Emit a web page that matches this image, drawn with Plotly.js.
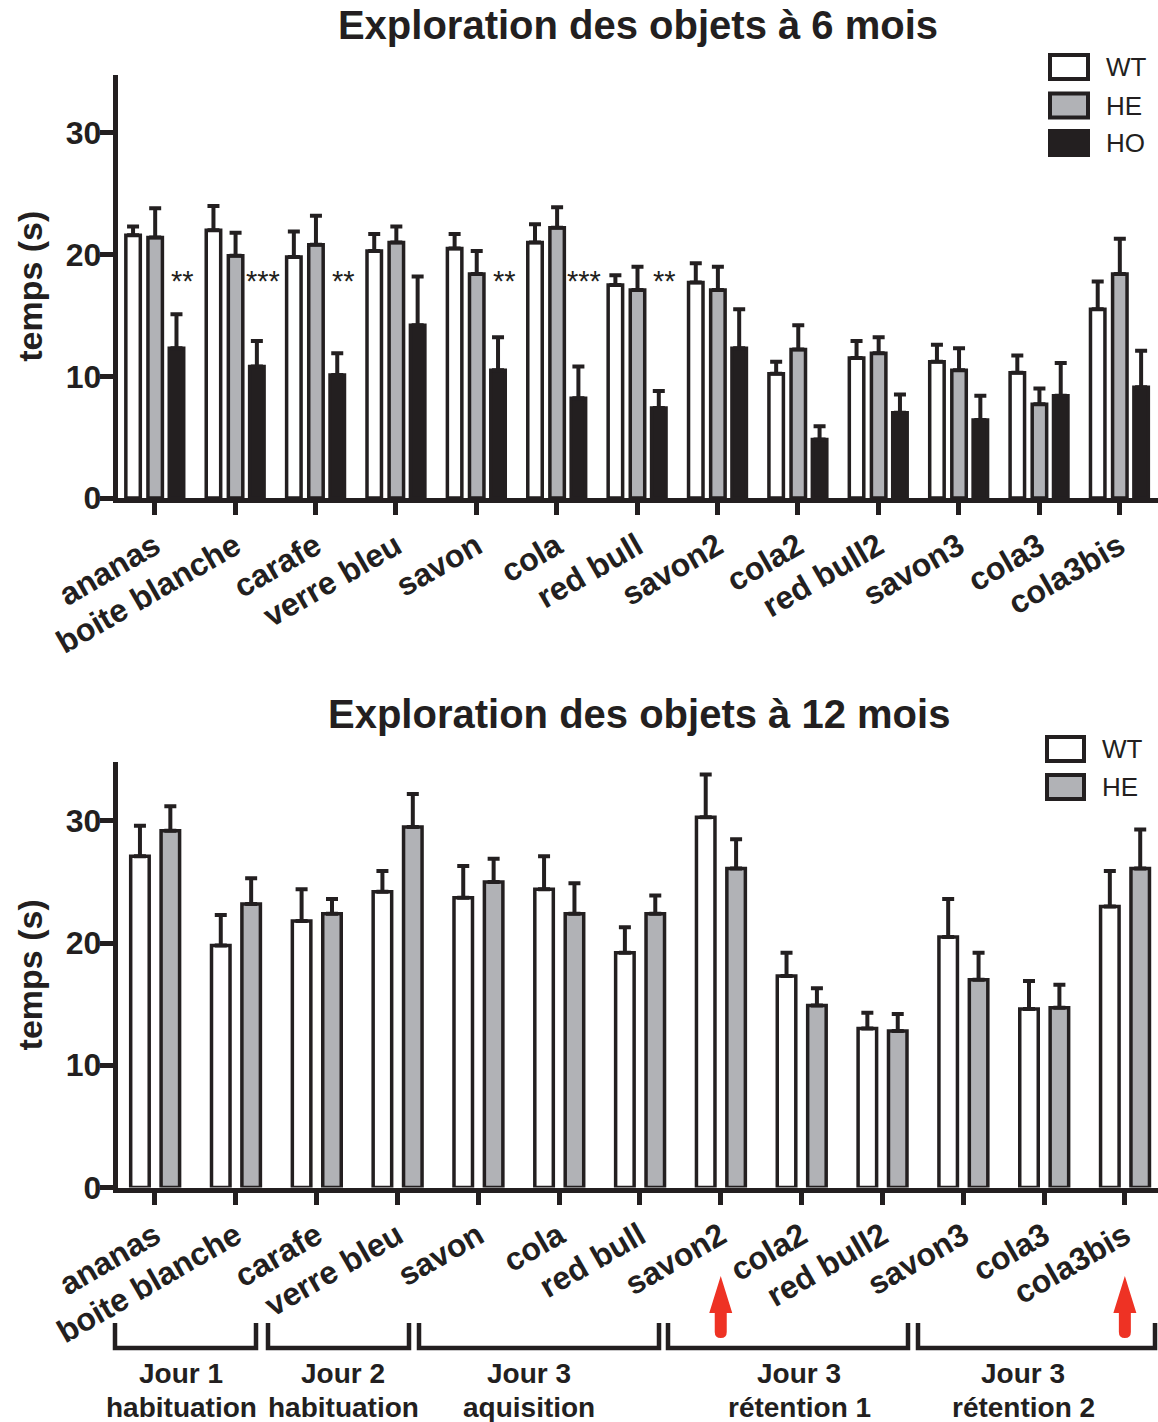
<!DOCTYPE html>
<html><head><meta charset="utf-8">
<script src="https://cdn.plot.ly/plotly-3.0.1.min.js"></script>
<style>html,body{margin:0;padding:0;background:#fff}#chart{width:1158px;height:1422px}</style>
</head><body><div id="chart"></div>
<script>
// ---------- data ----------
const categories = ['ananas','boite blanche','carafe','verre bleu','savon','cola','red bull','savon2','cola2','red bull2','savon3','cola3','cola3bis'];
// 6 mois
const wt6    = [21.6,22.0,19.8,20.3,20.5,21.0,17.5,17.7,10.2,11.5,11.2,10.3,15.5];
const wt6Err = [0.7,2.0,2.1,1.4,1.2,1.5,0.8,1.6,1.0,1.4,1.4,1.4,2.3];
const he6    = [21.4,19.9,20.8,21.0,18.4,22.2,17.1,17.1,12.2,11.9,10.5,7.7,18.4];
const he6Err = [2.4,1.9,2.4,1.3,1.9,1.7,1.9,1.9,2.0,1.3,1.8,1.3,2.9];
const ho6    = [12.3,10.8,10.1,14.2,10.5,8.2,7.4,12.3,4.8,7.0,6.4,8.4,9.1];
const ho6Err = [2.8,2.1,1.8,4.0,2.7,2.6,1.4,3.2,1.1,1.5,2.0,2.7,3.0];
const sig6   = ['**','***','**','','**','***','**','','','','','',''];
const sigLevel6 = 17.8;
// 12 mois
const wt12    = [27.1,19.8,21.8,24.2,23.7,24.4,19.2,30.3,17.3,13.0,20.5,14.6,23.0];
const wt12Err = [2.5,2.5,2.6,1.7,2.6,2.7,2.1,3.5,1.9,1.3,3.1,2.3,2.9];
const he12    = [29.2,23.2,22.4,29.5,25.0,22.4,22.4,26.1,14.9,12.8,17.0,14.7,26.1];
const he12Err = [2.0,2.1,1.2,2.7,1.9,2.5,1.5,2.4,1.4,1.4,2.2,1.9,3.2];
const yTicks = [0,10,20,30];
const series6 = ['WT','HE','HO'];
const series12 = ['WT','HE'];
const groupTop = ['Jour 1','Jour 2','Jour 3','Jour 3','Jour 3'];
const groupBottom = ['habituation','habituation','aquisition','rétention 1','rétention 2'];
const arrowCats = ['savon2','cola3bis'];

// ---------- styling ----------
const ink = '#231f20', grey = '#b1b2b6', red = '#ee3224';
const W = 1158, H = 1422;
const px = v => v / W, py = v => 1 - v / H;
const FONT = 'Liberation Sans, Arial, Helvetica, sans-serif';
const fills = {WT:'#ffffff', HE:grey, HO:ink};

function bar(y, err, name, xa, ya, width, offset){
  return {
    type:'bar', x:categories, y:y, name:name, xaxis:xa, yaxis:ya,
    width:width, offset:offset, showlegend:false,
    marker:{color:fills[name], line:{color:ink, width:3.5}},
    error_y:{type:'data', array:err, arrayminus:err.map(()=>0), symmetric:false,
             color:ink, thickness:4, width:6}
  };
}
const w6 = 0.18, w12 = 0.229;
const data = [
  bar(wt6, wt6Err, 'WT', 'x', 'y', w6, -0.27 - w6/2),
  bar(he6, he6Err, 'HE', 'x', 'y', w6, 0.005 - w6/2),
  bar(ho6, ho6Err, 'HO', 'x', 'y', w6, 0.27 - w6/2),
  bar(wt12, wt12Err, 'WT', 'x2', 'y2', w12, -0.186 - w12/2),
  bar(he12, he12Err, 'HE', 'x2', 'y2', w12, 0.19 - w12/2)
];

const tickFont = {family:FONT, size:32, weight:'bold', color:ink};
function xAxis(dom, range, anchor){
  return {domain:dom, range:range, type:'category', anchor:anchor,
    showline:true, linewidth:5, linecolor:ink, ticks:'outside', ticklen:12, tickwidth:5, tickcolor:ink,
    tickangle:-30, tickfont:tickFont, showgrid:false, zeroline:false, fixedrange:true};
}
function yAxis(dom, anchor){
  return {domain:dom, range:[0,34.8], anchor:anchor,
    showline:true, linewidth:5, linecolor:ink, ticks:'outside', ticklen:13, tickwidth:5, tickcolor:ink,
    tickvals:yTicks, tickfont:tickFont, ticklabelstandoff:-8, showgrid:false, zeroline:false, fixedrange:true,
    title:{text:'temps (s)', font:{family:FONT, size:34, weight:'bold', color:ink}, standoff:14}};
}

const annotations = [];
const shapes = [];
// bottom title
annotations.push({text:'Exploration des objets à 12 mois', xref:'paper', yref:'paper', x:px(639), y:py(714),
  xanchor:'center', yanchor:'middle', showarrow:false, font:{family:FONT, size:40, weight:'bold', color:ink}});
// significance stars
sig6.forEach((s,i)=>{ if(s) annotations.push({text:s, xref:'x', yref:'y', x:i+0.345, y:sigLevel6,
  xanchor:'center', yanchor:'middle', showarrow:false, font:{family:FONT, size:29, color:ink}}); });
// legends
function legend(names, boxX0, boxX1, textX, centers){
  names.forEach((n,i)=>{
    const c = centers[i];
    shapes.push({type:'rect', xref:'paper', yref:'paper', x0:px(boxX0), x1:px(boxX1), y0:py(c+12), y1:py(c-12),
      fillcolor:fills[n], line:{color:ink, width:4}});
    annotations.push({text:n, xref:'paper', yref:'paper', x:px(textX), y:py(c), xanchor:'left', yanchor:'middle',
      showarrow:false, font:{family:FONT, size:26, color:ink}});
  });
}
legend(series6, 1050, 1088, 1104, [67, 105.5, 143]);
legend(series12, 1047, 1084, 1100, [749, 787]);
// brackets and group labels
const brackets = [[115,256],[268,409],[419,659],[668,908],[918,1155]];
const groupCenters = [181, 343, 529, 799, 1023];
brackets.forEach((b,i)=>{
  shapes.push({type:'path', xref:'paper', yref:'paper',
    path:`M${px(b[0])},${py(1323)} L${px(b[0])},${py(1348)} L${px(b[1])},${py(1348)} L${px(b[1])},${py(1323)}`,
    line:{color:ink, width:4.5}});
  annotations.push({text:groupTop[i], xref:'paper', yref:'paper', x:px(groupCenters[i]), y:py(1373.5),
    xanchor:'center', yanchor:'middle', showarrow:false, font:{family:FONT, size:28, weight:'bold', color:ink}});
  annotations.push({text:groupBottom[i], xref:'paper', yref:'paper', x:px(groupCenters[i]), y:py(1407),
    xanchor:'center', yanchor:'middle', showarrow:false, font:{family:FONT, size:28, weight:'bold', color:ink}});
});
// red arrows under highlighted categories
arrowCats.forEach(c=>{
  shapes.push({type:'path', xref:'x2', xsizemode:'pixel', xanchor:c, yref:'paper', ysizemode:'pixel', yanchor:py(1276),
    path:'M0,0 L11.5,-37 L6,-37 L6,-56 Q6,-62 0,-62 Q-6,-62 -6,-56 L-6,-37 L-11.5,-37 Z',
    fillcolor:red, line:{width:0}, layer:'above'});
});

const layout = {
  width:W, height:H, margin:{l:0,r:0,t:0,b:0}, paper_bgcolor:'#fff', plot_bgcolor:'rgba(0,0,0,0)',
  font:{family:FONT, color:ink},
  title:{text:'Exploration des objets à 6 mois', font:{family:FONT, size:40, weight:'bold', color:ink},
    x:px(638), xanchor:'center', xref:'paper', y:py(25), yref:'container', yanchor:'middle'},
  barmode:'group', showlegend:false,
  xaxis: xAxis([px(117.8), 1], [-0.46, 12.48], 'y'),
  yaxis: yAxis([py(498), py(74.5)], 'x'),
  xaxis2: xAxis([px(117.8), 1], [-0.46, 12.41], 'y2'),
  yaxis2: yAxis([py(1187.5), py(762.2)], 'x2'),
  annotations:annotations, shapes:shapes
};
Plotly.newPlot('chart', data, layout, {displayModeBar:false, staticPlot:true});
</script>
</body></html>
